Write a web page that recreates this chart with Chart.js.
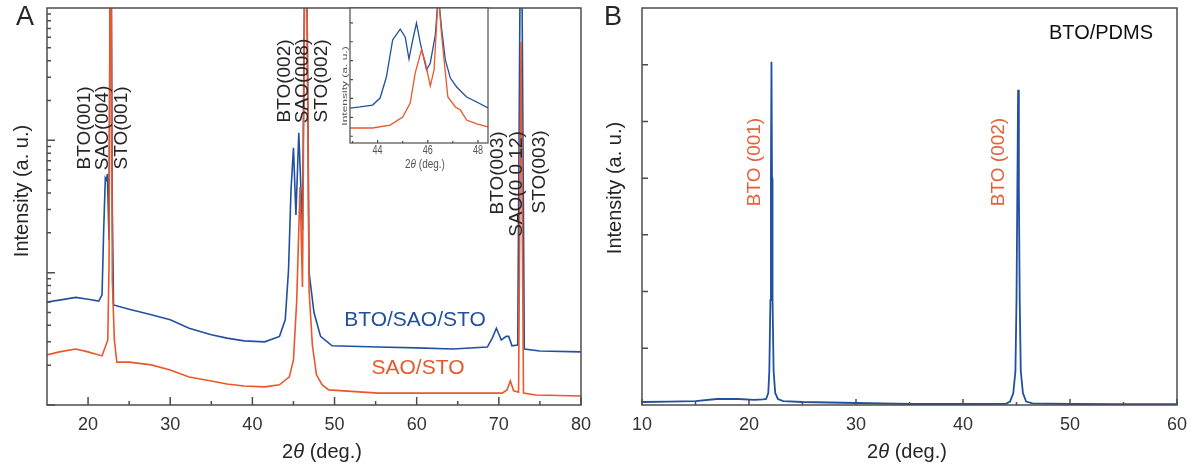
<!DOCTYPE html>
<html>
<head>
<meta charset="utf-8">
<script src="https://cdn.jsdelivr.net/npm/chart.js@4.4.1/dist/chart.umd.min.js"></script>
<style>
  html, body { margin: 0; padding: 0; background: #fff; }
  #wrap { position: relative; width: 1197px; height: 471px; overflow: hidden; background: #fff; }
  canvas { position: absolute; top: 0; }
  #chartA { left: 0; }
  #chartB { left: 600px; }
  #inset { left: 330px; }
</style>
</head>
<body>
<div id="wrap">
  <canvas id="chartA" width="600" height="471"></canvas>
  <canvas id="chartB" width="597" height="471"></canvas>
  <canvas id="inset" width="170" height="180"></canvas>
</div>
<script>
// ---- panel A : BTO/SAO/STO (blue) and SAO/STO (red), log intensity ----
const thetaBlueA = [15, 16.5, 18.5, 20, 21.3, 21.7, 21.9, 22.1, 22.25, 22.35, 22.55, 22.75, 22.95, 23.1, 25, 27.7, 30, 32.3, 35, 36.9, 39, 41.5, 43.3, 44.0, 44.4, 44.7, 45.0, 45.3, 45.65, 46.1, 46.5, 46.9, 47.5, 48.3, 49.7, 55.3, 60, 64.4, 68.6, 69.2, 69.7, 70.3, 70.9, 71.2, 71.6, 72.3, 72.7, 73.1, 75, 80];
const intBlueA = [60, 62, 65, 63, 61, 68, 210, 520, 500, 557, 177, 200000, 300, 57, 53, 48, 44, 38, 34, 32, 30.5, 30, 33, 44, 105, 420, 877, 273, 1140, 210, 200000, 100, 50, 33, 28, 27.4, 27, 26.5, 27.4, 32, 38, 31, 33, 33, 28, 28.4, 200000, 26.5, 25.6, 25.2];

const thetaRedA = [15, 16.5, 18.5, 20, 21.7, 22.4, 22.55, 22.75, 22.95, 23.2, 23.5, 25, 27.7, 30, 32.3, 35, 36.9, 39, 41.5, 43.3, 44.5, 45.0, 45.4, 45.8, 46.1, 46.5, 46.9, 47.3, 47.8, 48.5, 49.3, 55.3, 64.4, 70.4, 71.0, 71.4, 71.8, 72.4, 72.7, 73.0, 74.5, 80];
const intRedA = [23.9, 25.2, 26.5, 25.2, 23.5, 31, 114, 300000, 88, 31, 21.1, 21.1, 20.1, 18.4, 16.3, 15.2, 14.4, 13.9, 13.7, 14.2, 16.3, 21.9, 62, 445, 78, 300000, 74, 28.4, 16.9, 14.2, 13.0, 12.3, 12.3, 12.3, 13.0, 15.2, 12.8, 12.5, 5546, 12.3, 11.9, 11.7];

const xTicksA = [20, 30, 40, 50, 60, 70, 80];
const xMinorA = [25, 35, 45, 55, 65, 75];
const yDecadesA = [10, 100, 1000];

// ---- inset of panel A (43-48 deg) ----
const thetaBlueIn = [42.9, 43.3, 43.8, 44.1, 44.35, 44.6, 44.9, 45.1, 45.25, 45.4, 45.55, 45.7, 45.95, 46.1, 46.3, 46.42, 46.55, 46.7, 46.9, 47.15, 47.55, 47.95, 48.4];
const intBlueIn = [0.259, 0.267, 0.281, 0.333, 0.489, 0.763, 0.844, 0.785, 0.622, 0.763, 0.889, 0.741, 0.541, 0.593, 0.80, 1.1, 0.85, 0.615, 0.481, 0.415, 0.341, 0.304, 0.259];
const thetaRedIn = [42.9, 43.8, 44.5, 45.0, 45.3, 45.5, 45.75, 45.9, 46.1, 46.25, 46.42, 46.55, 46.65, 46.8, 47.1, 47.3, 47.55, 47.95, 48.4];
const intRedIn = [0.111, 0.111, 0.133, 0.193, 0.296, 0.519, 0.689, 0.600, 0.422, 0.541, 1.1, 0.80, 0.615, 0.341, 0.267, 0.244, 0.170, 0.141, 0.119];
const xTicksIn = [44, 46, 48];
const xMinorIn = [43, 45, 47];
const yTicksIn = [0.05, 0.19, 0.33, 0.47, 0.61, 0.75, 0.89];

// ---- panel B : BTO/PDMS ----
const thetaB = [10, 12.5, 15, 17, 19, 20.5, 21.3, 21.6, 21.8, 21.9, 22.0, 22.05, 22.1, 22.15, 22.2, 22.3, 22.45, 22.7, 23.2, 25, 30, 35, 40, 44.0, 44.4, 44.7, 44.9, 45.0, 45.08, 45.15, 45.22, 45.3, 45.4, 45.6, 45.9, 46.5, 50, 55, 60];
const intB = [53, 60, 70, 106, 106, 90, 100, 106, 212, 600, 1850, 4000, 6050, 4000, 1850, 600, 212, 106, 70, 53, 35, 18, 18, 20, 60, 212, 600, 1850, 3800, 5560, 3800, 1850, 600, 212, 60, 30, 18, 15, 15];
const xTicksB = [10, 20, 30, 40, 50, 60];
const xMinorB = [15, 25, 35, 45, 55];
const yTicksB = [1000, 2000, 3000, 4000, 5000, 6000];

const FONT = "'Liberation Sans', Arial, sans-serif";
const BLUE = '#21509f';
const RED = '#e9572b';
const AXIS = '#4d4d4d';
const TEXT = '#262626';

const pts = (xs, ys) => xs.map((x, i) => ({ x: x, y: ys[i] }));
const TITLE_2THETA = [['2', ''], ['\u03b8', 'italic '], [' (deg.)', '']];

// text helper: plain or rich (array of [text, style]) text, optional rotation and stretch
const drawText = (ctx, t) => {
    ctx.save();
    ctx.translate(t.x, t.y);
    if (t.rotate) ctx.rotate(-Math.PI / 2);
    ctx.scale(t.sx || 1, t.sy || 1);
    ctx.fillStyle = t.color || TEXT;
    ctx.textBaseline = 'middle';
    const parts = Array.isArray(t.text) ? t.text : [[t.text, '']];
    let total = 0;
    parts.forEach(p => {
        ctx.font = `${p[1]}${t.size}px ${FONT}`;
        total += ctx.measureText(p[0]).width;
    });
    let cx = -total / 2;
    ctx.textAlign = 'left';
    parts.forEach(p => {
        ctx.font = `${p[1]}${t.size}px ${FONT}`;
        ctx.fillText(p[0], cx, 0);
        cx += ctx.measureText(p[0]).width;
    });
    ctx.restore();
};

const decor = {
    id: 'decor',
    beforeDraw(chart, args, o) {
        if (!o.fill) return;
        const a = chart.chartArea, ctx = chart.ctx;
        ctx.save();
        ctx.fillStyle = o.fill;
        ctx.fillRect(a.left, a.top, a.right - a.left, a.bottom - a.top);
        ctx.restore();
    },
    afterDraw(chart, args, o) {
        const ctx = chart.ctx, a = chart.chartArea;
        const xs = chart.scales.x, ys = chart.scales.y;
        ctx.save();
        ctx.strokeStyle = AXIS;
        ctx.lineWidth = o.axisWidth || 1.5;
        ctx.strokeRect(a.left, a.top, a.right - a.left, a.bottom - a.top);
        ctx.beginPath();
        (o.xMajor || []).forEach(v => {
            const p = xs.getPixelForValue(v);
            ctx.moveTo(p, a.bottom); ctx.lineTo(p, a.bottom - o.major);
        });
        (o.xMinor || []).forEach(v => {
            const p = xs.getPixelForValue(v);
            ctx.moveTo(p, a.bottom); ctx.lineTo(p, a.bottom - o.minor);
        });
        (o.yMajor || []).forEach(v => {
            const p = ys.getPixelForValue(v);
            ctx.moveTo(a.left, p); ctx.lineTo(a.left + o.major, p);
        });
        (o.yDecades || []).forEach(d => {
            for (let m = 1; m < 10; m++) {
                const p = ys.getPixelForValue(d * m);
                const len = m === 1 ? o.major : o.minor;
                ctx.moveTo(a.left, p); ctx.lineTo(a.left + len, p);
            }
        });
        ctx.stroke();
        (o.xLabels || []).forEach(v => {
            drawText(ctx, { text: String(v), x: xs.getPixelForValue(v), y: o.xLabelY, size: o.xLabelSize, color: '#555', sy: o.labelSy });
        });
        (o.texts || []).forEach(t => drawText(ctx, t));
        ctx.restore();
    }
};
Chart.register(decor);

const lineSet = (label, data, color, width) => ({
    label: label,
    data: data,
    borderColor: color,
    borderWidth: width,
    pointRadius: 0,
    tension: 0,
    fill: false,
});

const xAxis = (min, max, ticks, height, showLabels) => ({
    type: 'linear',
    min: min,
    max: max,
    afterBuildTicks: s => { s.ticks = ticks.map(v => ({ value: v })); },
    afterFit: s => { s.height = height; },
    grid: { display: false, drawTicks: false },
    border: { display: false },
    ticks: { display: showLabels, padding: 9, maxRotation: 0, autoSkip: false, color: '#333', font: { family: FONT, size: 18 } },
});

const yAxis = (type, min, max, width) => ({
    type: type,
    min: min,
    max: max,
    afterFit: s => { s.width = width; },
    grid: { display: false, drawTicks: false },
    border: { display: false },
    ticks: { display: false },
});

const baseOptions = (padding, scales, decorOptions) => ({
    responsive: false,
    animation: false,
    layout: { padding: padding },
    plugins: { legend: { display: false }, tooltip: { enabled: false }, decor: decorOptions },
    scales: scales,
});

// panel A
new Chart(document.getElementById('chartA'), {
    type: 'line',
    data: {
        datasets: [
            lineSet('SAO/STO', pts(thetaRedA, intRedA), RED, 1.6),
            lineSet('BTO/SAO/STO', pts(thetaBlueA, intBlueA), BLUE, 1.6),
        ],
    },
    options: baseOptions(
        { top: 8, right: 11, left: 0, bottom: 0 },
        { x: xAxis(15, 80, xTicksA, 66, true), y: yAxis('logarithmic', 10, 10000, 47) },
        {
            major: 8, minor: 4,
            xMajor: xTicksA, xMinor: xMinorA, yDecades: yDecadesA,
            texts: [
                { text: 'A', x: 25, y: 18, size: 27 },
                { text: 'Intensity (a. u.)', x: 22, y: 191, size: 20, rotate: true },
                { text: TITLE_2THETA, x: 322, y: 452, size: 20 },
                { text: 'BTO(001)', x: 85, y: 128, size: 19, rotate: true },
                { text: 'SAO(004)', x: 103, y: 128, size: 19, rotate: true },
                { text: 'STO(001)', x: 122, y: 128, size: 19, rotate: true },
                { text: 'BTO(002)', x: 285, y: 81, size: 19, rotate: true },
                { text: 'SAO(008)', x: 303, y: 81, size: 19, rotate: true },
                { text: 'STO(002)', x: 322, y: 81, size: 19, rotate: true },
                { text: 'BTO(003)', x: 498, y: 173, size: 19, rotate: true },
                { text: 'SAO(0 0 12)', x: 517, y: 184, size: 19, rotate: true },
                { text: 'STO(003)', x: 540, y: 172, size: 19, rotate: true },
                { text: 'BTO/SAO/STO', x: 415, y: 320, size: 21, color: BLUE },
                { text: 'SAO/STO', x: 418, y: 368, size: 21, color: RED },
            ],
        }
    ),
});

// inset
new Chart(document.getElementById('inset'), {
    type: 'line',
    data: {
        datasets: [
            lineSet('SAO/STO', pts(thetaRedIn, intRedIn), RED, 1.3),
            lineSet('BTO/SAO/STO', pts(thetaBlueIn, intBlueIn), BLUE, 1.3),
        ],
    },
    options: baseOptions(
        { top: 8, right: 12, left: 0, bottom: 0 },
        { x: xAxis(42.9, 48.4, xTicksIn, 37, false), y: yAxis('linear', 0, 1, 20) },
        {
            fill: '#fff', axisWidth: 1.2,
            major: 3, minor: 2,
            xMajor: xTicksIn, xMinor: xMinorIn, yMajor: yTicksIn,
            xLabels: xTicksIn, xLabelY: 151, xLabelSize: 9, labelSy: 1.4,
            texts: [
                { text: TITLE_2THETA, x: 95, y: 164, size: 10, color: '#555', sy: 1.3 },
                { text: 'Intensity (a. u.)', x: 15, y: 86, size: 8, color: '#555', rotate: true, sx: 1.5 },
            ],
        }
    ),
});

// panel B
new Chart(document.getElementById('chartB'), {
    type: 'line',
    data: {
        datasets: [lineSet('BTO/PDMS', pts(thetaB, intB), BLUE, 1.8)],
    },
    options: baseOptions(
        { top: 8, right: 20, left: 0, bottom: 0 },
        { x: xAxis(10, 60, xTicksB, 66, true), y: yAxis('linear', 0, 7000, 42) },
        {
            major: 6, minor: 3,
            xMajor: xTicksB, xMinor: xMinorB, yMajor: yTicksB,
            texts: [
                { text: 'B', x: 13, y: 18, size: 27 },
                { text: 'Intensity (a. u.)', x: 15, y: 188, size: 20, rotate: true },
                { text: TITLE_2THETA, x: 307, y: 452, size: 20 },
                { text: 'BTO/PDMS', x: 501, y: 33, size: 20, color: '#111' },
                { text: 'BTO (001)', x: 155, y: 162, size: 19, rotate: true, color: '#e2623c' },
                { text: 'BTO (002)', x: 399, y: 162, size: 19, rotate: true, color: '#e2623c' },
            ],
        }
    ),
});
</script>
</body>
</html>
